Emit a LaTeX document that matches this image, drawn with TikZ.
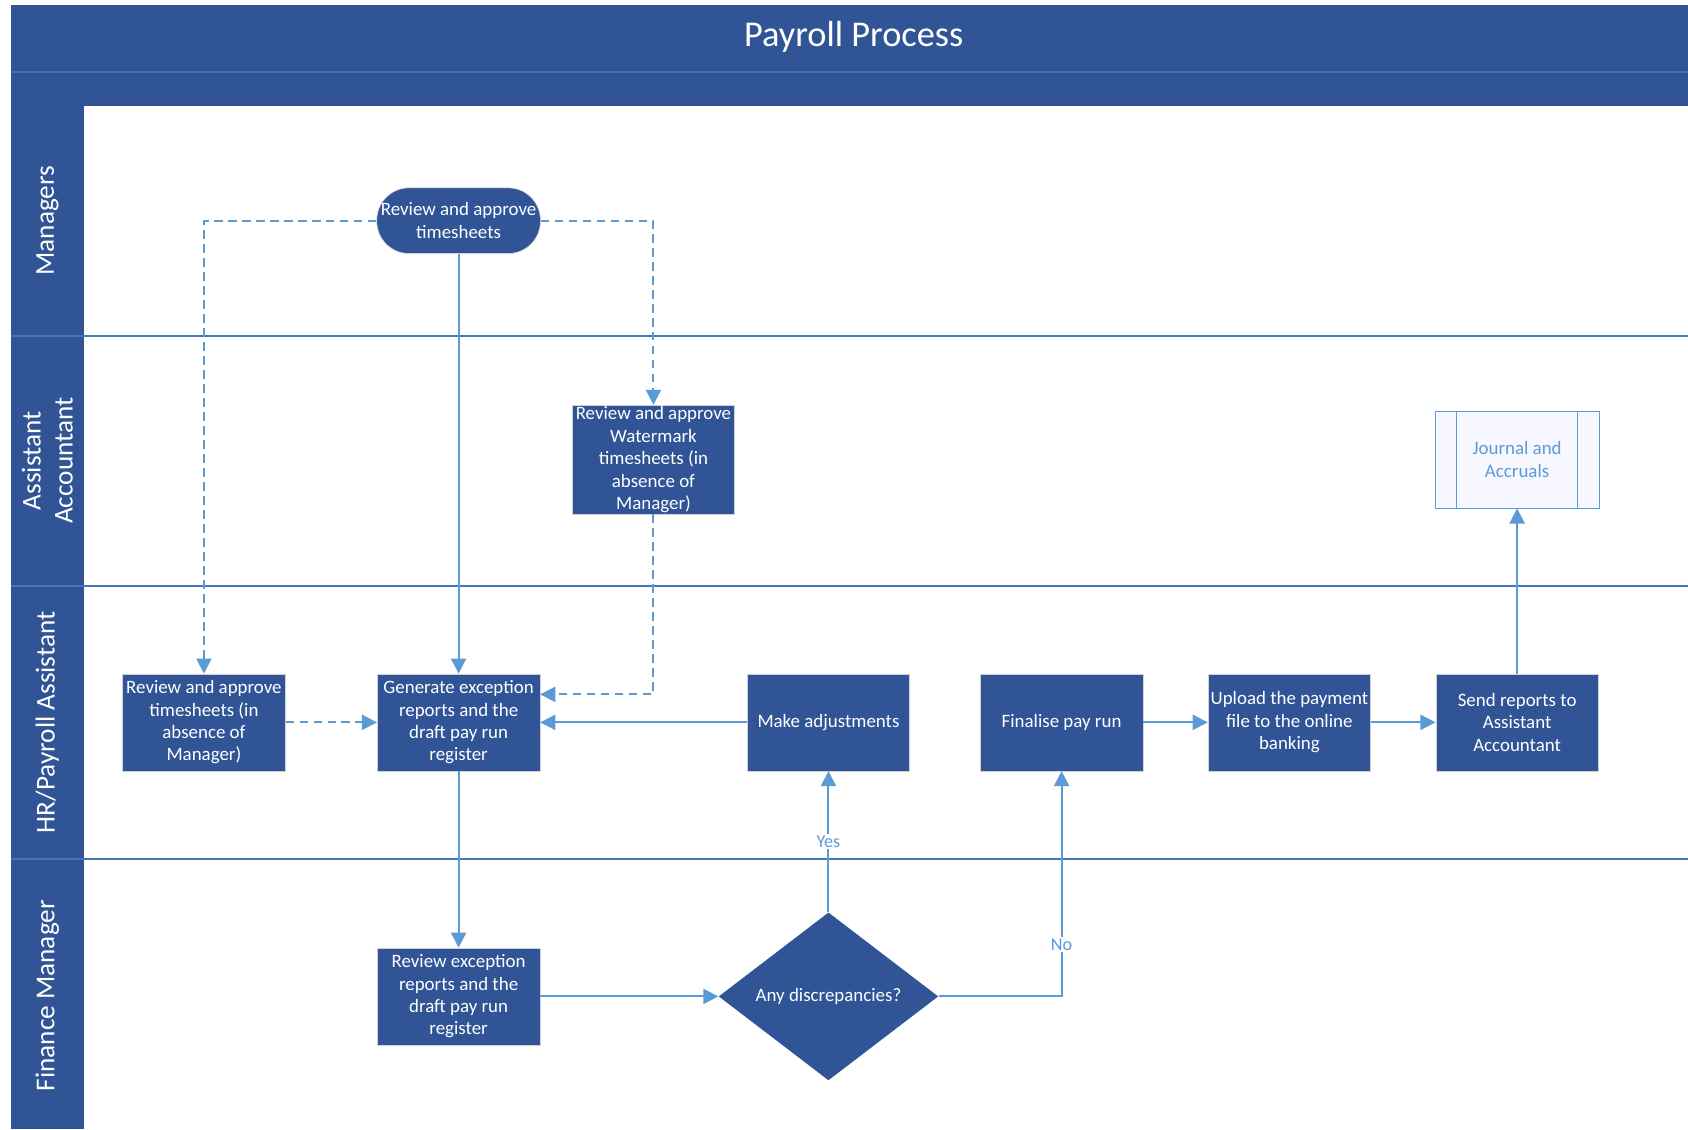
\documentclass[tikz,border=0pt]{standalone}
\usepackage{fontspec}
\setmainfont{Carlito}
\usepackage{tikz}
\usetikzlibrary{arrows.meta,positioning,shapes.geometric}
\definecolor{procblue}{RGB}{48,84,150}
\definecolor{flowblue}{RGB}{91,155,213}
\definecolor{laneblue}{RGB}{70,118,184}
\definecolor{hdrline}{RGB}{66,110,170}

\begin{document}
\begin{tikzpicture}[
  x=0.25mm, y=-0.25mm,
  font=\fontsize{12.5}{14.8}\selectfont,
  box/.style={draw=gray!35,fill=procblue,text=white,align=center,
              minimum width=37.75mm,minimum height=22.5mm,inner sep=1pt},
  term/.style={draw=gray!35,fill=procblue,text=white,align=center,
               rounded corners=7.5mm,minimum width=38mm,minimum height=15.25mm,
               inner sep=1pt},
  decide/.style={diamond,fill=procblue,text=white,align=center,
                 minimum width=51mm,minimum height=39mm,inner sep=0pt},
  subproc/.style={draw=flowblue,fill=blue!3,text=flowblue,align=center,
                  minimum width=38mm,minimum height=22.5mm},
  lanelbl/.style={rotate=90,text=white,align=center,
                  font=\fontsize{18}{21}\selectfont},
  lbl/.style={fill=white,text=flowblue,inner sep=1pt,
              font=\fontsize{12}{14}\selectfont},
  arrow/.style={-{Triangle[length=3.5mm,width=3.5mm]},draw=flowblue,line width=1.3pt},
  dasharrow/.style={arrow,dash pattern=on 2mm off 1.25mm},
  laneline/.style={draw=laneblue,line width=1.2pt}
]
\useasboundingbox (0,0) rectangle (1568,1049);

% header and lanes
\fill[procblue] (10,5) rectangle (1568,98);
\draw[hdrline,line width=1pt] (10,67) -- (1568,67);
\node[text=white,font=\fontsize{24}{28}\selectfont] (title) at (793,34) {Payroll Process};
\fill[procblue] (10,98) rectangle (78,1049);
\draw[laneline] (10,312) -- (1568,312);
\draw[laneline] (10,544) -- (1568,544);
\draw[laneline] (10,798) -- (1568,798);
\node[lanelbl] (lmgr) at (44,205) {Managers};
\node[lanelbl] (lacc) at (44,428) {Assistant\\Accountant};
\node[lanelbl] (lhr) at (44,671) {HR/Payroll Assistant};
\node[lanelbl] (lfin) at (44,925) {Finance Manager};

% HR/payroll row
\node[box] (gen) at (426,671) {Generate exception\\reports and the\\draft pay run\\register};
\node[box,left=21.25mm of gen] (revabs) {Review and approve\\timesheets (in\\absence of\\Manager)};
\node[box,right=48mm of gen] (adj) {Make adjustments};
\node[box,right=16.25mm of adj] (fin) {Finalise pay run};
\node[box,right=15mm of fin] (upl) {Upload the payment\\file to the online\\banking};
\node[box,right=15mm of upl] (send) {Send reports to\\Assistant\\Accountant};

% managers and assistant accountant
\node[term] (appr) at (426,205) {Review and approve\\timesheets};
\node[box] (wmark) at (607,427) {Review and approve\\Watermark\\timesheets (in\\absence of\\Manager)};
\node[subproc] (jour) at (send |- wmark) {Journal and\\Accruals};
\draw[flowblue,line width=0.8pt] ([xshift=5mm]jour.north west) -- ([xshift=5mm]jour.south west);
\draw[flowblue,line width=0.8pt] ([xshift=-5mm]jour.north east) -- ([xshift=-5mm]jour.south east);

% finance manager
\node[box,below=41mm of gen] (revexc) {Review exception\\reports and the\\draft pay run\\register};
\node[decide] (disc) at (adj |- revexc) {Any discrepancies?};

% connectors
\draw[dasharrow] (appr.west) -| (revabs.north);
\draw[dasharrow] (appr.east) -| (wmark.north);
\draw[arrow] (appr) -- (gen);
\draw[dasharrow] (wmark.south) |- ([yshift=6.5mm]gen.east);
\draw[dasharrow] (revabs) -- (gen);
\draw[arrow] (adj) -- (gen);
\draw[arrow] (gen) -- (revexc);
\draw[arrow] (revexc) -- (disc);
\draw[arrow] (disc) -- node[lbl] {Yes} (adj);
\draw[arrow] (disc.east) -| node[lbl,pos=0.615] {No} (fin.south);
\draw[arrow] (fin) -- (upl);
\draw[arrow] (upl) -- (send);
\draw[arrow] (send) -- (jour);
\end{tikzpicture}
\end{document}
